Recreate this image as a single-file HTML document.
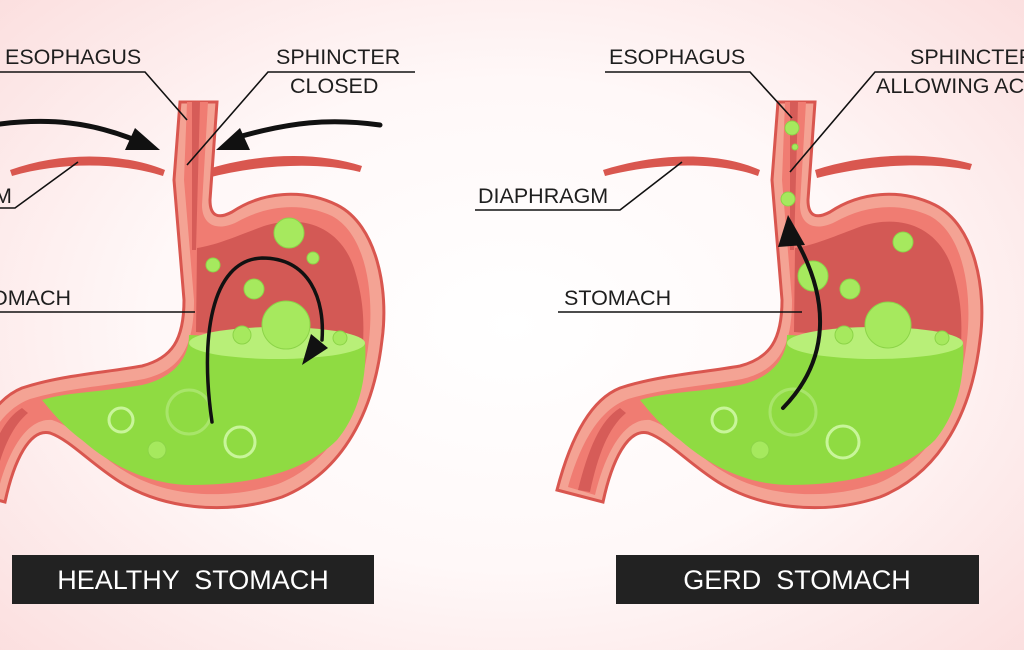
<!DOCTYPE html>
<html><head><meta charset="utf-8"><style>
html,body{margin:0;padding:0;width:1024px;height:650px;overflow:hidden}
body{background:radial-gradient(ellipse 70% 75% at 50% 50%,#ffffff 0%,#fff8f8 50%,#fbdede 100%)}
svg{position:absolute;left:0;top:0}
text{font-family:"Liberation Sans",sans-serif;fill:#1e1e1e}
</style></head><body>
<svg width="1024" height="650" viewBox="0 0 1024 650">
<defs>
<g id="stom">
  <path d="M778,102 L815,102 L808,200 C808,215 815,220 830,212 C860,192 900,188 935,205 C975,225 987,290 980,340 C972,410 942,472 880,497 C820,517 758,507 718,482 C688,463 668,440 648,433 C628,428 612,460 603,502 L557,490 C570,440 590,400 620,388 C660,375 700,373 740,366 C770,358 782,340 782,300 L772,180 Z" fill="#f4a394" stroke="#d9564f" stroke-width="3"/>
  <path d="M785,102 L806,102 L800,205 C800,225 815,232 835,222 C865,205 900,202 930,216 C965,235 972,295 967,340 C960,405 932,462 876,484 C820,502 762,495 724,472 C695,455 676,428 650,420 C625,418 606,450 595,495 L568,487 C580,445 598,410 628,399 C665,388 705,386 742,379 C780,370 792,345 792,300 L782,180 Z" fill="#f07c72"/>
  <path d="M790,102 L798,102 L794,250 L790,250 Z" fill="#d65c58"/>
  <path d="M578,490 C588,450 600,420 620,408 L626,413 C608,428 598,455 590,492 Z" fill="#d65c58"/>
  <path d="M794,332 L795,248 C815,245 835,236 862,226 C900,214 938,226 952,268 C962,300 962,322 961,345 Z" fill="#d35955"/>
  <path d="M787,335 C787,360 770,378 740,385 C700,392 665,392 640,400 C650,412 660,425 680,440 C720,475 760,485 790,485 C840,485 900,475 935,440 C960,410 965,370 963,342 Z" fill="#8fdb42"/>
  <ellipse cx="875" cy="343" rx="88" ry="16" fill="#b8ef78"/>
</g>
</defs>

<g fill="#d9574f">
<path d="M10,170 C60,152 120,152 165,170 L163,176 C120,162 60,162 12,176 Z"/>
<path d="M205,170 C260,152 320,152 362,166 L360,172 C320,162 260,164 207,178 Z"/>
<path d="M603,170 C660,152 720,152 760,170 L758,176 C720,162 660,162 605,176 Z"/>
<path d="M815,170 C870,152 930,152 972,164 L970,170 C930,162 870,164 817,178 Z"/>
</g>

<use href="#stom" transform="translate(-598,0)"/>
<use href="#stom"/>

<g fill="#a6e95e" stroke="#8cd448" stroke-width="1">
<circle cx="289" cy="233" r="15"/><circle cx="213" cy="265" r="7"/><circle cx="313" cy="258" r="6"/>
<circle cx="254" cy="289" r="10"/><circle cx="286" cy="325" r="24"/><circle cx="242" cy="335" r="9"/><circle cx="340" cy="338" r="7"/>
<circle cx="157" cy="450" r="9"/>
</g>
<g fill="none" stroke="#c8f59a" stroke-width="3">
<circle cx="121" cy="420" r="12"/><circle cx="189" cy="412" r="22" stroke="#a8e56a"/><circle cx="240" cy="442" r="15"/>
</g>
<g fill="#a6e95e" stroke="#8cd448" stroke-width="1">
<circle cx="792" cy="128" r="7"/><circle cx="795" cy="147" r="3"/><circle cx="788" cy="199" r="7"/>
<circle cx="903" cy="242" r="10"/><circle cx="813" cy="276" r="15"/><circle cx="850" cy="289" r="10"/>
<circle cx="888" cy="325" r="23"/><circle cx="844" cy="335" r="9"/><circle cx="942" cy="338" r="7"/>
<circle cx="760" cy="450" r="9"/>
</g>
<g fill="none" stroke="#c8f59a" stroke-width="3">
<circle cx="724" cy="420" r="12"/><circle cx="793" cy="412" r="23" stroke="#a8e56a"/><circle cx="843" cy="442" r="16"/>
</g>

<g fill="none" stroke="#111" stroke-linecap="round">
<path d="M0,124 C50,118 90,122 135,140" stroke-width="5"/>
<path d="M380,125 C330,118 290,122 235,138" stroke-width="5"/>
<path d="M212,422 C200,340 210,260 262,258 C310,258 325,300 322,340" stroke-width="3.5"/>
<path d="M783,408 C830,360 830,300 796,240" stroke-width="4"/>
</g>
<g fill="#111">
<polygon points="160,150 125,150 135,128"/>
<polygon points="216,150 250,150 240,128"/>
<polygon points="328,348 302,365 311,334"/>
<polygon points="788,215 805,245 778,247"/>
</g>

<g stroke="#111" stroke-width="1.6" fill="none">
<polyline points="0,72 145,72 187,120"/>
<polyline points="415,72 268,72 187,165"/>
<polyline points="0,208 15,208 78,162"/>
<polyline points="0,312 195,312"/>
<polyline points="605,72 750,72 792,118"/>
<polyline points="1024,72 875,72 790,172"/>
<polyline points="475,210 620,210 682,162"/>
<polyline points="558,312 802,312"/>
</g>
<g font-size="21.5">
<text x="5" y="64">ESOPHAGUS</text>
<text x="276" y="64">SPHINCTER</text>
<text x="290" y="93">CLOSED</text>
<text x="-6" y="203">M</text>
<text x="-9" y="305">OMACH</text>
<text x="609" y="64">ESOPHAGUS</text>
<text x="910" y="64">SPHINCTER</text>
<text x="876" y="93">ALLOWING ACID</text>
<text x="478" y="203">DIAPHRAGM</text>
<text x="564" y="305">STOMACH</text>
</g>

<rect x="12" y="555" width="362" height="49" fill="#222"/>
<rect x="616" y="555" width="363" height="49" fill="#222"/>
<text x="193" y="589" font-size="27" text-anchor="middle" style="fill:#fff" xml:space="preserve">HEALTHY  STOMACH</text>
<text x="797" y="589" font-size="27" text-anchor="middle" style="fill:#fff" xml:space="preserve">GERD  STOMACH</text>
</svg>
</body></html>
